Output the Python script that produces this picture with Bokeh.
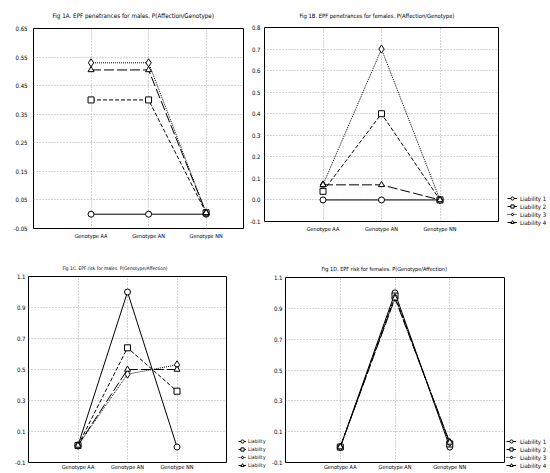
from bokeh.plotting import figure
from bokeh.layouts import column, row
from bokeh.models import Range1d, FixedTicker, PrintfTickFormatter, Legend, LegendItem
from bokeh.embed import file_html
from bokeh.resources import INLINE

# ---------------- data ----------------
genotypes = ["Genotype AA", "Genotype AN", "Genotype NN"]
liability_labels = ["Liability 1", "Liability 2", "Liability 3", "Liability 4"]
liability_labels_c = ["Liability", "Liability", "Liability", "Liability"]

# Fig 1A - penetrances for males
a_l1 = [0.0, 0.0, 0.0]
a_l2 = [0.40, 0.40, 0.005]
a_l3 = [0.53, 0.53, 0.005]
a_l4 = [0.505, 0.505, 0.005]
a_yticks = [-0.05, 0.05, 0.15, 0.25, 0.35, 0.45, 0.55, 0.65]

# Fig 1B - penetrances for females
b_l1 = [0.0, 0.0, 0.0]
b_l2 = [0.04, 0.40, 0.0]
b_l3 = [0.07, 0.70, 0.0]
b_l4 = [0.07, 0.07, 0.0]
b_yticks = [-0.1, 0.0, 0.1, 0.2, 0.3, 0.4, 0.5, 0.6, 0.7, 0.8]

# Fig 1C - risk for males
c_l1 = [0.01, 1.00, 0.0]
c_l2 = [0.01, 0.64, 0.36]
c_l3 = [0.01, 0.47, 0.53]
c_l4 = [0.01, 0.50, 0.50]

# Fig 1D - risk for females
d_l1 = [0.0, 1.00, 0.0]
d_l2 = [0.0, 0.98, 0.02]
d_l3 = [0.0, 0.97, 0.03]
d_l4 = [0.0, 0.965, 0.03]
cd_yticks = [-0.1, 0.1, 0.3, 0.5, 0.7, 0.9, 1.1]

titles = [
    "Fig 1A. EPF penetrances for males. P(Affection/Genotype)",
    "Fig 1B. EPF penetrances for females. P(Affection/Genotype)",
    "Fig 1C. EPF risk for males. P(Genotype/Affection)",
    "Fig 1D. EPF risk for females. P(Genotype/Affection)",
]

# ---------------- styling ----------------
FONT = "Liberation Sans Narrow, DejaVu Sans Condensed, sans-serif"
STYLES = [
    dict(dash="solid", marker="circle", size=6),
    dict(dash="4 2", marker="square", size=6),
    dict(dash="1 1", marker="diamond", size=8),
    dict(dash="10 3", marker="triangle", size=6),
]

xs = list(range(1, len(genotypes) + 1))


def panel(title, series, yticks, fmt, xend, w, h, bl, br, bt, bb,
          title_size, title_offset, title_standoff, xstand, ystand):
    p = figure(width=w, height=h, output_backend="svg", toolbar_location=None,
               x_range=Range1d(0, xend), y_range=Range1d(yticks[0], yticks[-1]),
               min_border_left=bl, min_border_right=br,
               min_border_top=bt, min_border_bottom=bb, frame_align=False)
    p.title.text = title
    p.title.text_font = FONT
    p.title.text_font_size = title_size
    p.title.text_font_style = "normal"
    p.title.text_color = "black"
    p.title.align = "left"
    p.title.offset = title_offset
    p.title.standoff = title_standoff
    p.outline_line_color = "black"
    p.outline_line_width = 1
    p.background_fill_color = "white"
    p.border_fill_color = "white"

    for ax in (p.xaxis[0], p.yaxis[0]):
        ax.axis_line_color = None
        ax.major_tick_line_color = None
        ax.minor_tick_line_color = None
        ax.major_tick_out = 0
        ax.major_tick_in = 0
        ax.minor_tick_out = 0
        ax.minor_tick_in = 0
        ax.major_label_text_font = FONT
        ax.major_label_text_color = "black"
    p.yaxis[0].major_label_text_font_size = "6px"
    p.xaxis[0].major_label_text_font_size = "5.5px"
    p.yaxis[0].ticker = FixedTicker(ticks=yticks)
    p.yaxis[0].formatter = PrintfTickFormatter(format=fmt)
    p.yaxis[0].major_label_standoff = ystand
    p.xaxis[0].ticker = FixedTicker(ticks=xs)
    p.xaxis[0].major_label_overrides = {x: g for x, g in zip(xs, genotypes)}
    p.xaxis[0].major_label_standoff = xstand

    for g in (p.xgrid[0], p.ygrid[0]):
        g.grid_line_color = "#a8a8a8"
        g.grid_line_dash = "1 2"
        g.grid_line_width = 1
    p.ygrid[0].ticker = FixedTicker(ticks=yticks)
    p.xgrid[0].ticker = FixedTicker(ticks=xs)

    for ys, st in zip(series, STYLES):
        p.line(xs, ys, line_color="black", line_width=1, line_dash=st["dash"])
        p.scatter(xs, ys, marker=st["marker"], size=st["size"],
                  fill_color="white", line_color="black", line_width=1)
    return p


def legend_fig(w, h, labels, series, loc, standoff, font_size, glyph_w):
    # a narrow strip that only holds the legend of the neighbouring panel;
    # its proxy renderers are hidden, the legend still draws their glyphs
    lf = figure(width=w, height=h, output_backend="svg", toolbar_location=None,
                x_axis_type=None, y_axis_type=None,
                x_range=Range1d(0, 1), y_range=Range1d(0, 1),
                min_border_left=0, min_border_right=0,
                min_border_top=0, min_border_bottom=0, frame_align=False)
    lf.outline_line_color = None
    lf.background_fill_color = "white"
    lf.border_fill_color = "white"
    items = []
    for lab, ys, st in zip(labels, series, STYLES):
        lr = lf.line(xs, ys, line_color="black", line_width=1, line_dash=st["dash"],
                     visible=False)
        sr = lf.scatter(xs, ys, marker=st["marker"], size=st["size"] - 1,
                        fill_color="white", line_color="black", line_width=1,
                        visible=False)
        items.append(LegendItem(label=lab, renderers=[lr, sr]))
    leg = Legend(items=items, location=loc, glyph_width=glyph_w, glyph_height=8,
                 label_height=8, spacing=0, padding=0, margin=0, label_standoff=standoff,
                 label_text_font=FONT, label_text_font_size=font_size,
                 label_text_color="black", inactive_fill_alpha=0,
                 border_line_color=None, background_fill_alpha=0)
    lf.add_layout(leg, "center")
    return lf


TOP_H = 252
BOT_H = 220

pA = panel(titles[0], [a_l1, a_l2, a_l3, a_l4], a_yticks, "%.2f", 3.65,
           246, TOP_H, 33, 3, 28, 24, "6.25px", 19, 19, 4, 6)
pB = panel(titles[1], [b_l1, b_l2, b_l3, b_l4], b_yticks, "%.1f", 4,
           254, TOP_H, 17, 2, 27, 31, "5.8px", 35, 17, 4, 4)
lB = legend_fig(50, TOP_H, liability_labels, [b_l1, b_l2, b_l3, b_l4], (7, 26), 3, "6px", 10)

pC = panel(titles[2], [c_l1, c_l2, c_l3, c_l4], cd_yticks, "%.1f", 4,
           228, BOT_H, 28, 2, 24, 9, "4.8px", 34, 11, 1, 3)
lC = legend_fig(40, BOT_H, liability_labels_c, [c_l1, c_l2, c_l3, c_l4], (10, 3), 2, "5px", 8)
pD = panel(titles[3], [d_l1, d_l2, d_l3, d_l4], cd_yticks, "%.1f", 4,
           238, BOT_H, 14, 2, 25, 9, "5.5px", 36, 12, 1, 3)
lD = legend_fig(44, BOT_H, liability_labels, [d_l1, d_l2, d_l3, d_l4], (0, 3), 4, "6px", 10)

layout = column(row(pA, pB, lB, spacing=0), row(pC, lC, pD, lD, spacing=0), spacing=0)

open("out.html", "w").write(file_html(layout, INLINE))
